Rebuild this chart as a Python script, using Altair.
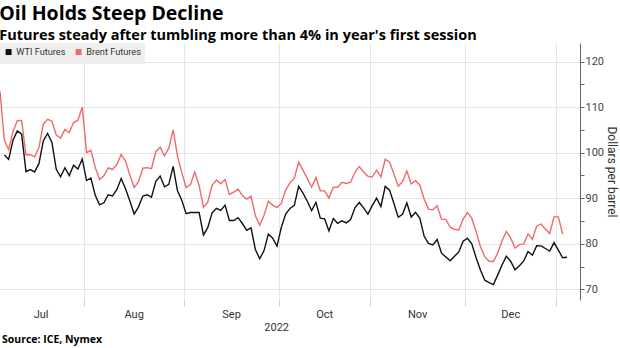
import altair as alt
import pandas as pd

# ---------------- data ----------------
START = "2022-07-04"
END = "2023-01-04"
CLOSED = ["2022-12-26"]          # no session for either contract
SERIES = ["WTI Futures", "Brent Futures"]
COLORS = ["#111111", "#ef6b6b"]
YEAR_LABEL = "2022"
TITLE = "Oil Holds Steep Decline"
SUBTITLE = "Futures steady after tumbling more than 4% in year's first session"
SOURCE = "Source: ICE, Nymex"
Y_TICKS = [70, 75, 80, 85, 90, 95, 100, 105, 110, 115, 120]

wti = [
    None, 99.50, 98.53, 102.73, 104.79, 104.09, 95.84, 96.30, 95.78, 97.59,
    102.60, 104.22, 102.26, 96.35, 94.70, 96.70, 94.98, 97.26, 96.42, 98.62,
    93.89, 94.42, 90.66, 88.54, 89.01, 90.76, 90.50, 91.93, 94.34, 92.09,
    89.41, 86.53, 88.11, 90.50, 90.77, 90.23, 93.74, 94.89, 92.52, 93.06,
    97.01, 91.64, 89.55,
    86.61, 86.87, None, 86.88, 81.94, 83.54, 86.79, 87.78, 87.31, 88.48,
    85.10, 85.11, 85.73, 84.45, 82.94, 83.49, 78.74, 76.71, 78.50, 82.15,
    81.23, 79.49,
    83.63, 86.52, 87.76, 88.45, 92.64, 91.13, 89.35, 87.27, 89.11, 85.61,
    85.46, 82.82, 85.55, 84.51, 85.05, 84.58, 85.32, 87.91, 89.08, 87.90,
    86.53,
    88.37, 90.00, 88.17, 92.61, 91.79, 88.91, 85.83, 86.47, 88.96, 85.87,
    86.92, 85.59, 81.64, 80.08, 79.73, 80.95, 77.94, None, 76.28, 77.24,
    78.20, 80.55,
    81.22, 79.98, 76.93, 74.25, 72.01, 71.46, 71.02, 73.17, 75.39, 77.28,
    76.11, 74.29, 75.19, 76.23, 78.29, 77.49, 79.56, 79.53, 78.96, 78.40,
    80.26,
    None, 76.93, 77.05,
]

brent = [
    113.50, 102.77, 100.69, 104.65, 107.02, 107.10, 99.49, 99.57, 99.10, 101.16,
    106.27, 107.35, 106.92, 103.86, 103.20, 105.15, 104.40, 106.62, 107.14, 110.01,
    100.03, 100.54, 96.78, 94.12, 94.92, 96.65, 96.31, 97.40, 99.60, 98.15,
    95.10, 92.34, 93.65, 96.59, 96.72, 96.48, 100.22, 101.22, 99.34, 100.99,
    105.09, 99.31, 95.64,
    92.36, 93.02, 95.74, 92.83, 88.00, 89.15, 92.84, 94.00, 93.17, 94.10,
    90.84, 91.35, 92.00, 90.62, 89.83, 90.46, 86.15, 84.06, 86.27, 89.32,
    88.49, 87.96,
    88.86, 91.80, 93.37, 94.42, 97.92, 96.19, 94.29, 92.45, 94.57, 91.63,
    91.62, 90.03, 92.41, 92.38, 93.50, 93.26, 93.52, 95.69, 96.96, 95.77,
    94.83,
    94.65, 96.16, 94.67, 98.57, 97.92, 95.36, 92.65, 93.67, 95.99, 93.14,
    93.86, 92.86, 89.78, 87.62, 87.45, 88.36, 85.41, 85.34, 83.63, 83.19,
    83.03, 85.43,
    86.88, 85.57, 82.68, 79.35, 77.17, 76.15, 76.10, 77.99, 80.68, 82.70,
    81.21, 79.04, 79.80, 79.99, 82.20, 80.98, 83.92, 84.33, 83.26, 82.26,
    85.91,
    85.91, 82.10, None,
]

# ---------------- build tables ----------------
dates = pd.bdate_range(START, END)
dates = dates[~dates.isin(pd.to_datetime(CLOSED))]
n = len(dates)
assert len(wti) == n and len(brent) == n, (len(wti), len(brent), n)

rows = []
for i, d in enumerate(dates):
    for s, vals in zip(SERIES, [wti, brent]):
        if vals[i] is not None:
            rows.append({"idx": i, "series": s, "value": vals[i],
                         "date": d.strftime("%Y-%m-%d")})
df = pd.DataFrame(rows)

mkey = dates.to_period("M")
firsts = [i for i in range(n) if i == 0 or mkey[i] != mkey[i - 1]]
bounds = [f - 0.5 for f in firsts[1:]]
edges = [-0.5] + bounds
months_df = pd.DataFrame({
    "label": [dates[firsts[k]].strftime("%b") for k in range(len(edges) - 1)],
    "pos": [(edges[k] + edges[k + 1]) / 2 for k in range(len(edges) - 1)],
})
year_df = pd.DataFrame({"label": [YEAR_LABEL], "pos": [months_df["pos"].mean()]})
source_df = pd.DataFrame({"t": [SOURCE]})

# ---------------- chart ----------------
FONT = "Roboto"
TFONT = "Open Sans"
W, H = 580, 257
X_MAX = 134.0

xscale = alt.Scale(domain=[0, X_MAX], nice=False, zero=False)

lines = alt.Chart(df).mark_line(strokeWidth=1.4).encode(
    x=alt.X("idx:Q", scale=xscale,
            axis=alt.Axis(values=bounds, labels=False, grid=True,
                          gridColor="#e6e6e6", ticks=True, tickColor="#cfcfcf",
                          tickSize=6, domain=False, title=None)),
    y=alt.Y("value:Q",
            scale=alt.Scale(domain=[67.65, 124.1], nice=False, zero=False),
            axis=alt.Axis(orient="right", values=Y_TICKS,
                          labelExpr="datum.value % 10 === 0 ? datum.label : ''",
                          gridOpacity={"condition": {"test": "datum.value % 10 !== 0", "value": 0}, "value": 1},
                          gridColor="#e6e6e6", domainColor="#666666",
                          tickColor="#666666", tickSize=4,
                          labelFontSize=11, labelColor="#444444", labelPadding=1,
                          title="Dollars per barrel", titleFontSize=12,
                          titleFontWeight="normal", titleColor="#333333",
                          titlePadding=1)),
    color=alt.Color("series:N", scale=alt.Scale(domain=SERIES, range=COLORS),
                    legend=alt.Legend(orient="top-left", direction="horizontal",
                                      title=None, fillColor="#efefef", padding=4,
                                      offset=0, symbolType="square", symbolSize=9,
                                      symbolStrokeWidth=3, labelFontSize=9.2,
                                      labelColor="#333333", columnPadding=5,
                                      labelOffset=3)),
)

months = alt.Chart(months_df).mark_text(fontSize=11, color="#333333", font=FONT).encode(
    x=alt.X("pos:Q", scale=xscale), y=alt.value(H + 15), text="label:N")
year = alt.Chart(year_df).mark_text(fontSize=11, color="#333333", font=FONT).encode(
    x=alt.X("pos:Q", scale=xscale), y=alt.value(H + 28), text="label:N")
source = alt.Chart(source_df).mark_text(fontSize=10.5, fontWeight="bold", align="left",
                                        color="#000000", font=TFONT).encode(
    x=alt.value(2), y=alt.value(H + 40), text="t:N")

chart = alt.layer(lines, months, year, source).properties(
    width=W, height=H,
    title=alt.Title(TITLE, subtitle=SUBTITLE, anchor="start", font=TFONT,
                    fontSize=19.5, fontWeight="bold", color="#000000",
                    subtitleFont=TFONT, subtitleFontSize=14.5,
                    subtitleFontWeight="bold", subtitleColor="#000000",
                    subtitlePadding=4, offset=0, dx=2),
    autosize=alt.AutoSizeParams(type="none"),
    padding={"left": 0, "top": 43, "right": 40, "bottom": 48},
).configure_view(stroke=None).configure_axis(
    labelFont=FONT, titleFont=FONT
).configure_legend(labelFont=FONT)

chart.save("out.html", embed_options={"renderer": "svg", "actions": False})
